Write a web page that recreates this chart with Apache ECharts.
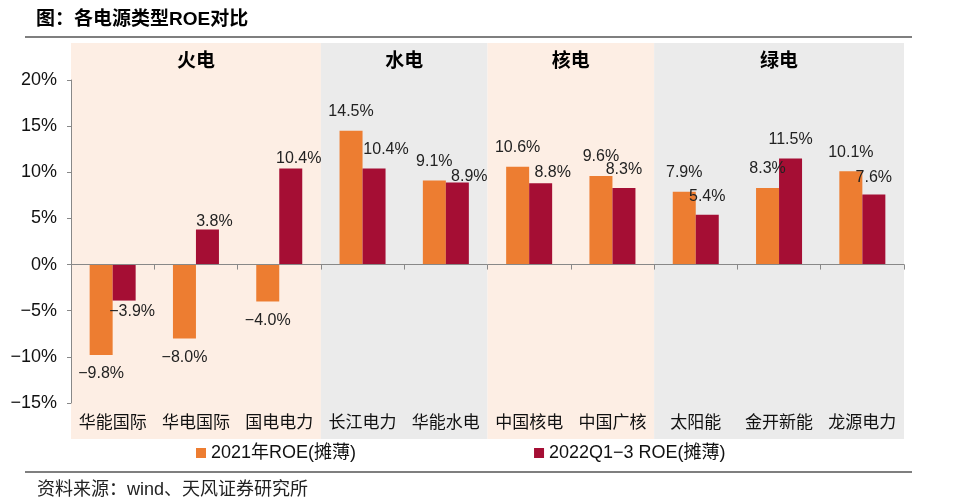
<!DOCTYPE html>
<html><head><meta charset="utf-8">
<script src="https://cdn.jsdelivr.net/npm/echarts@6/dist/echarts.min.js"></script>
<style>html,body{margin:0;padding:0;background:#fff}#c{width:957px;height:503px}</style>
</head><body><div id="c"></div>
<script>
const categories = ['华能国际','华电国际','国电电力','长江电力','华能水电','中国核电','中国广核','太阳能','金开新能','龙源电力'];
const groups = ['火电','水电','核电','绿电'];
const groupSizes = [3,2,2,3];
const seriesNames = ['2021年ROE(摊薄)','2022Q1−3 ROE(摊薄)'];
const roe2021 = [-9.8,-8.0,-4.0,14.5,9.1,10.6,9.6,7.9,8.3,10.1];
const roe2022 = [-3.9,3.8,10.4,10.4,8.9,8.8,8.3,5.4,11.5,7.6];
const yTicks = {min:-15, max:20, interval:5};
const titleText = '图：各电源类型ROE对比';
const sourceText = '资料来源：wind、天风证券研究所';

// ---- styling ----
const FONT = '"Liberation Sans", Arial, "Noto Sans CJK SC", sans-serif';
const bandColors = ['#FDEEE4','#EBEBEB'];
// hand-placed label nudges of the second series (px right, px toward the bar)
const label2Dx = [8,7,8,12,12,12,0,0,0,0];
const label2Dy = [8,11,9,0,13,8,1,1,0,2];
const fmt = v => (v < 0 ? '−' : '') + Math.abs(v).toFixed(1) + '%';

const bands = [];
let acc = 0;
groups.forEach((g,i)=>{ bands.push([acc, acc+groupSizes[i], g, i]); acc += groupSizes[i]; });

function barData(vals, isSecond){
  return vals.map((v,i)=>{
    const lab = {position: v<0 ? 'bottom' : 'top', distance: 11};
    if (isSecond) {
      const dy = label2Dy[i];
      lab.offset = [label2Dx[i], v<0 ? -dy : dy];
    }
    return {value: v, label: lab};
  });
}

const chart = echarts.init(document.getElementById('c'), null, {renderer:'canvas'});
chart.setOption({
  animation:false,
  textStyle:{fontFamily:FONT},
  title:[
    {text:titleText, left:36, top:10, padding:0, textStyle:{fontSize:19, fontWeight:'bold', color:'#000', fontFamily:FONT}},
    {text:sourceText, left:37, top:481, padding:0, textStyle:{fontSize:18, fontWeight:'normal', color:'#222', fontFamily:FONT}}
  ],
  graphic:[
    {type:'line', shape:{x1:25,y1:37,x2:912,y2:37}, style:{stroke:'#000', lineWidth:1.2}},
    {type:'line', shape:{x1:25,y1:472,x2:912,y2:472}, style:{stroke:'#000', lineWidth:1.2}}
  ],
  legend:{
    data:seriesNames, left:196, top:444, padding:0, icon:'rect', itemWidth:10, itemHeight:10, itemGap:178,
    textStyle:{fontSize:18, color:'#111', fontFamily:FONT}
  },
  grid:[
    {left:71, right:53, top:80, bottom:100},
    {left:71, right:53, top:43, bottom:64}
  ],
  xAxis:[
    {type:'category', data:categories, gridIndex:0, z:5,
     axisLine:{onZero:true, lineStyle:{color:'#888'}}, axisTick:{show:true, length:5, interval:0, lineStyle:{color:'#888'}},
     axisLabel:{show:false}},
    {type:'category', data:categories, gridIndex:0, position:'bottom', z:5,
     axisLine:{show:false, onZero:false}, axisTick:{show:false},
     axisLabel:{interval:0, fontSize:17, color:'#111', margin:12, fontFamily:FONT}},
    {type:'value', gridIndex:1, min:0, max:categories.length, show:false}
  ],
  yAxis:[
    {type:'value', gridIndex:0, min:yTicks.min, max:yTicks.max, interval:yTicks.interval, z:5,
     axisLine:{show:true, lineStyle:{color:'#888'}}, axisTick:{show:true, length:4, lineStyle:{color:'#888'}},
     splitLine:{show:false},
     axisLabel:{fontSize:18, color:'#111', margin:14, fontFamily:FONT, formatter:v=>(v<0?'−':'')+Math.abs(v)+'%'}},
    {type:'value', gridIndex:1, min:0, max:1, show:false}
  ],
  series:[
    {type:'custom', xAxisIndex:2, yAxisIndex:1, z:-1, silent:true, clip:false,
     data:bands,
     renderItem:(params, api)=>{
       const p0 = api.coord([api.value(0), 1]);
       const p1 = api.coord([api.value(1), 0]);
       const idx = api.value(3);
       return {type:'group', children:[
         {type:'rect', shape:{x:p0[0], y:p0[1], width:p1[0]-p0[0], height:p1[1]-p0[1]}, style:{fill:bandColors[idx%2]}},
         {type:'text', x:(p0[0]+p1[0])/2, y:p0[1]+19,
          style:{text:bands[params.dataIndex][2], align:'center', verticalAlign:'middle', fill:'#000',
                 fontSize:19, fontWeight:'bold', fontFamily:FONT}}
       ]};
     }},
    {name:seriesNames[0], type:'bar', xAxisIndex:0, yAxisIndex:0, barWidth:23, barGap:'0%',
     itemStyle:{color:'#ED7D31'}, data:barData(roe2021,false),
     label:{show:true, fontSize:16, color:'#222', fontFamily:FONT, formatter:p=>fmt(p.value)}},
    {name:seriesNames[1], type:'bar', xAxisIndex:0, yAxisIndex:0, barWidth:23, barGap:'0%',
     itemStyle:{color:'#A50E34'}, data:barData(roe2022,true),
     label:{show:true, fontSize:16, color:'#222', fontFamily:FONT, formatter:p=>fmt(p.value)}}
  ]
});
</script></body></html>
